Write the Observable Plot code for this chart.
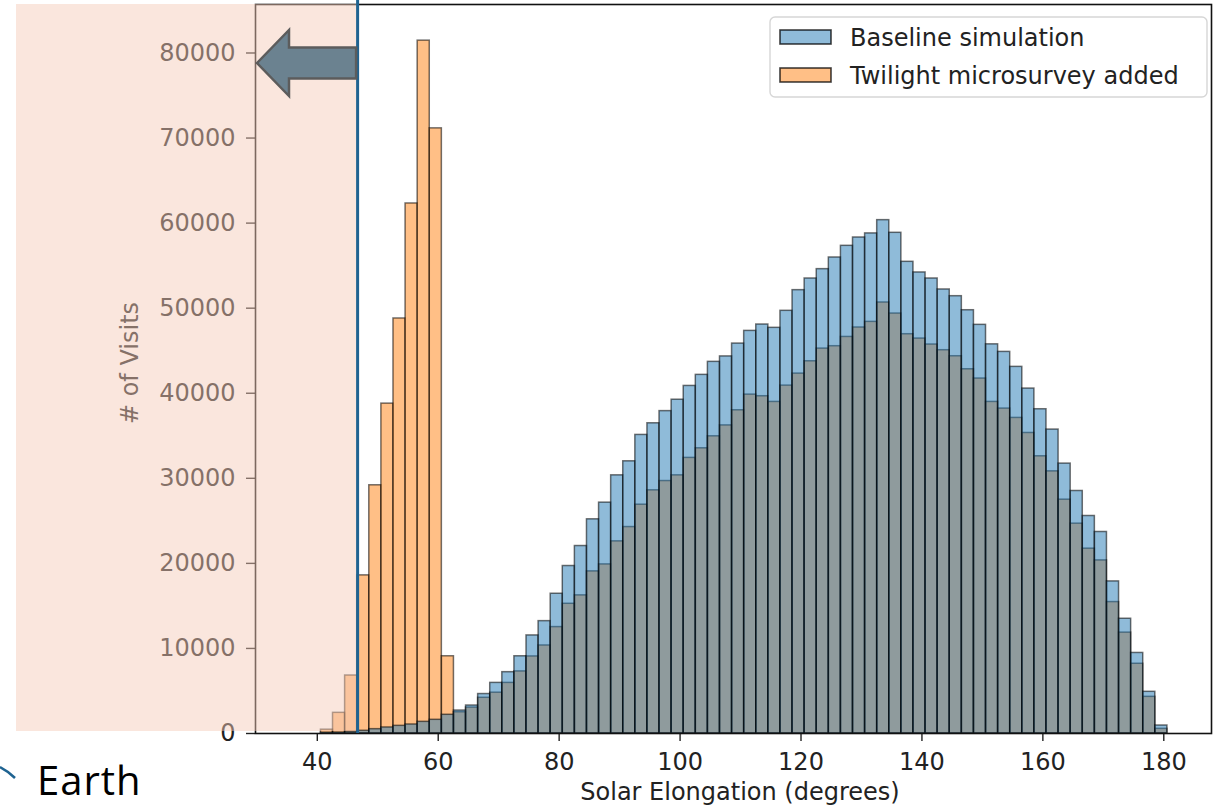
<!DOCTYPE html>
<html>
<head>
<meta charset="utf-8">
<script src="https://cdn.jsdelivr.net/npm/d3@7"></script>
<script src="https://cdn.jsdelivr.net/npm/@observablehq/plot@0.6"></script>
<style>
  html, body { margin: 0; padding: 0; background: #ffffff; }
  #chart { width: 1214px; height: 809px; overflow: hidden; }
</style>
</head>
<body>
<div id="chart"></div>
<script>
// ---- data (2-degree bins) ----
const binStart = [
  40.6, 42.6, 44.6, 46.6, 48.6, 50.6, 52.6, 54.6, 56.6, 58.6,
  60.6, 62.6, 64.6, 66.6, 68.6, 70.6, 72.6, 74.6, 76.6, 78.6,
  80.6, 82.6, 84.6, 86.6, 88.6, 90.6, 92.6, 94.6, 96.6, 98.6,
  100.6, 102.6, 104.6, 106.6, 108.6, 110.6, 112.6, 114.6, 116.6, 118.6,
  120.6, 122.6, 124.6, 126.6, 128.6, 130.6, 132.6, 134.6, 136.6, 138.6,
  140.6, 142.6, 144.6, 146.6, 148.6, 150.6, 152.6, 154.6, 156.6, 158.6,
  160.6, 162.6, 164.6, 166.6, 168.6, 170.6, 172.6, 174.6, 176.6, 178.6
];
const binWidth = 2;
const baselineVisits = [
  100, 120, 200, 320, 510, 710, 900, 1060, 1370, 1610,
  2200, 2700, 3290, 4640, 5950, 7210, 9080, 11530, 13210, 16430,
  19690, 22040, 25180, 27140, 30350, 32000, 35100, 36470, 37900, 39240,
  40860, 42160, 43690, 44330, 45840, 47330, 48080, 47690, 49690, 52120,
  53490, 54590, 55960, 57330, 58310, 58790, 60350, 58860, 55450, 54200,
  53490, 52200, 51410, 49760, 48040, 45750, 44860, 43100, 40550, 38120,
  35730, 31730, 28510, 25570, 23690, 17880, 13490, 9470, 4900, 940
];
const twilightVisits = [
  450, 2430, 6820, 18590, 29180, 38780, 48790, 62310, 81450, 71140,
  9080, 2500, 3050, 4200, 4800, 5950, 7300, 9060, 10350, 12510,
  15250, 16240, 19060, 19880, 22590, 24270, 26900, 28590, 29680, 30350,
  32400, 33530, 34940, 36220, 38000, 39840, 39650, 38980, 40900, 42310,
  43760, 45250, 45530, 46620, 47730, 48390, 50670, 49370, 46940, 46430,
  45730, 45060, 44350, 42820, 41730, 38980, 38200, 37100, 35330, 32590,
  30820, 27490, 24670, 21730, 20350, 15450, 11860, 8200, 4310, 550
];
const seriesNames = ["Baseline simulation", "Twilight microsurvey added"];
const seriesColors = ["#1f77b4", "#ff7f0e"];
const xTicks = [40, 60, 80, 100, 120, 140, 160, 180];
const yTicks = [0, 10000, 20000, 30000, 40000, 50000, 60000, 70000, 80000];
const xLabel = "Solar Elongation (degrees)";
const yLabel = "# of Visits";
const cutoffElongation = 46.75;   // annotated limit (vertical line)
const annotationText = "Earth";

// ---- tables built from the arrays ----
const twilightRows = binStart.map((b, i) => ({x1: b, x2: b + binWidth, v: twilightVisits[i]}));
const baselineRows = binStart.map((b, i) => ({x1: b, x2: b + binWidth, v: baselineVisits[i]}));

const FONT = "'DejaVu Sans', sans-serif";
const TXT = "#222222";

const plot = Plot.plot({
  width: 1214,
  height: 809,
  marginLeft: 255,
  marginRight: 3,
  marginTop: 4,
  marginBottom: 76,
  style: {fontFamily: FONT, fontSize: "24px", color: TXT, background: "#ffffff", overflow: "visible"},
  x: {domain: [29.78, 187.89]},
  y: {domain: [0, 85700]},
  marks: [
    Plot.rect(twilightRows, {
      x1: "x1", x2: "x2", y1: 0, y2: "v",
      fill: seriesColors[1], fillOpacity: 0.5,
      stroke: "#000", strokeOpacity: 0.55, strokeWidth: 1.5
    }),
    Plot.rect(baselineRows, {
      x1: "x1", x2: "x2", y1: 0, y2: "v",
      fill: seriesColors[0], fillOpacity: 0.5,
      stroke: "#000", strokeOpacity: 0.55, strokeWidth: 1.5
    }),
    Plot.axisX({ticks: xTicks, tickSize: 8, tickPadding: 11, label: null, strokeWidth: 1.4, fontSize: 24}),
    Plot.axisY({ticks: yTicks, tickSize: 9, tickPadding: 11, tickFormat: "d", label: null, strokeWidth: 1.4, fontSize: 24}),
    Plot.frame({stroke: "#111", strokeWidth: 1.6})
  ]
});

document.getElementById("chart").appendChild(plot);

const X = plot.scale("x");
const Y = plot.scale("y");
const svg = d3.select(plot);
const frameBottom = Y.apply(0);
const cutX = X.apply(cutoffElongation);

// axis titles
svg.append("text")
  .attr("x", 740).attr("y", 800)
  .attr("text-anchor", "middle")
  .attr("font-family", FONT).attr("font-size", 24).attr("fill", TXT)
  .text(xLabel);
svg.append("text")
  .attr("transform", `translate(138, ${Y.apply(43500)}) rotate(-90)`)
  .attr("text-anchor", "middle")
  .attr("font-family", FONT).attr("font-size", 24).attr("fill", TXT)
  .text(yLabel);

// legend
const lg = svg.append("g");
lg.append("rect")
  .attr("x", 770).attr("y", 17).attr("width", 437).attr("height", 80)
  .attr("rx", 5).attr("fill", "#ffffff").attr("fill-opacity", 0.85)
  .attr("stroke", "#d6d6d6").attr("stroke-width", 1.4);
seriesNames.forEach((name, i) => {
  const cy = 37 + i * 38;
  lg.append("rect").attr("x", 780).attr("y", cy - 7).attr("width", 51).attr("height", 14)
    .attr("fill", "#ffffff");
  lg.append("rect").attr("x", 780).attr("y", cy - 7).attr("width", 51).attr("height", 14)
    .attr("fill", seriesColors[i]).attr("fill-opacity", 0.5)
    .attr("stroke", "#000").attr("stroke-opacity", 0.75).attr("stroke-width", 1.6);
  lg.append("text").attr("x", 850).attr("y", cy + 9)
    .attr("text-anchor", "start")
    .attr("font-family", FONT).attr("font-size", 24).attr("fill", TXT)
    .text(name);
});

// shaded region left of the cutoff (drawn over the chart, semi-transparent)
svg.append("rect")
  .attr("x", 16).attr("y", 4).attr("width", cutX - 16).attr("height", frameBottom - 2 - 4)
  .attr("fill", "#f4cab6").attr("fill-opacity", 0.47);

// vertical cutoff line
svg.append("line")
  .attr("x1", cutX).attr("x2", cutX).attr("y1", 0).attr("y2", frameBottom)
  .attr("stroke", "#1f6391").attr("stroke-width", 3);

// block arrow pointing left
const ay = 63;
const tipX = 257, headX = 289, headHalf = 33, shaftHalf = 15.5;
const arrowPts = [
  [tipX, ay], [headX, ay - headHalf], [headX, ay - shaftHalf], [cutX - 1.5, ay - shaftHalf],
  [cutX - 1.5, ay + shaftHalf], [headX, ay + shaftHalf], [headX, ay + headHalf]
];
svg.append("path")
  .attr("d", "M" + arrowPts.map(p => p.join(",")).join("L") + "Z")
  .attr("fill", "#6b8290").attr("stroke", "#5c5c5c").attr("stroke-width", 2.5)
  .attr("stroke-linejoin", "miter");

// "Earth" label with orbit fragment
svg.append("path")
  .attr("d", "M0,767 Q8,771 15,778")
  .attr("fill", "none").attr("stroke", "#1f6391").attr("stroke-width", 2.5);
svg.append("text")
  .attr("x", 37).attr("y", 795)
  .attr("text-anchor", "start")
  .attr("font-family", "'Open Sans', sans-serif").attr("font-size", 40)
  .attr("letter-spacing", 1).attr("fill", "#000")
  .text(annotationText);
</script>
</body>
</html>
